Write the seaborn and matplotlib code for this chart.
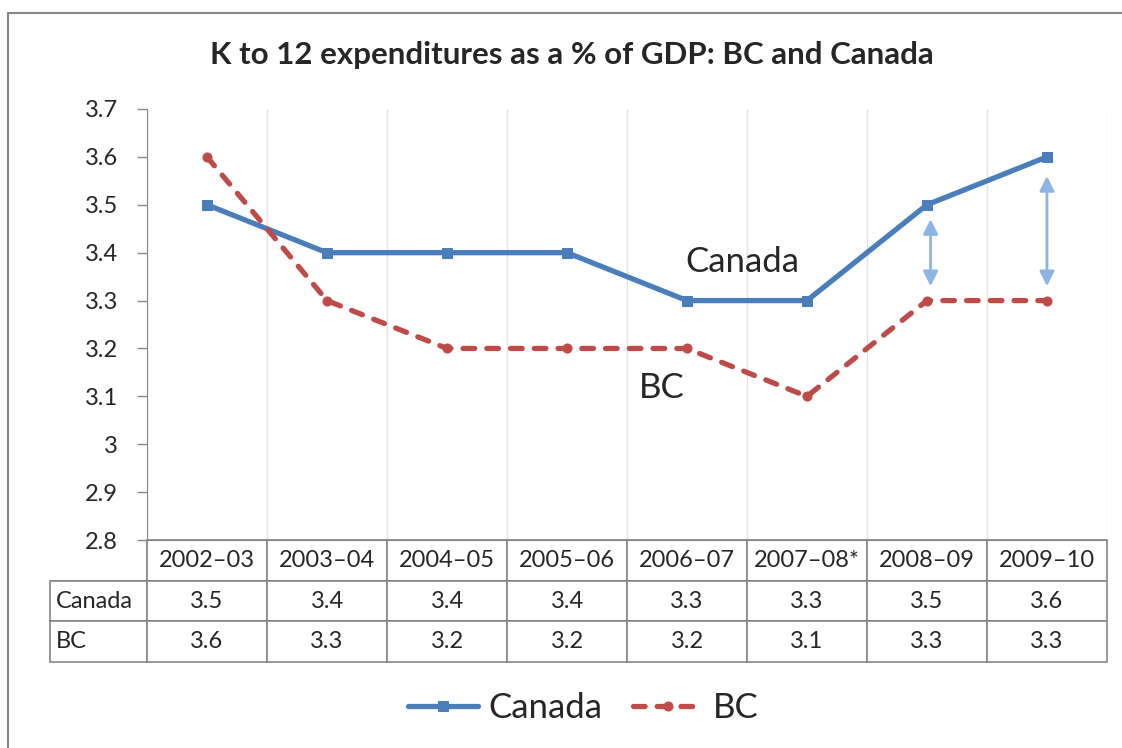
import matplotlib
matplotlib.use("Agg")
import matplotlib.pyplot as plt
import seaborn as sns
import pandas as pd
from matplotlib.patches import Rectangle

years = ["2002–03", "2003–04", "2004–05", "2005–06", "2006–07", "2007–08*", "2008–09", "2009–10"]
canada = [3.5, 3.4, 3.4, 3.4, 3.3, 3.3, 3.5, 3.6]
bc = [3.6, 3.3, 3.2, 3.2, 3.2, 3.1, 3.3, 3.3]
yticks = [2.8, 2.9, 3.0, 3.1, 3.2, 3.3, 3.4, 3.5, 3.6, 3.7]
ytick_labels = ["2.8", "2.9", "3", "3.1", "3.2", "3.3", "3.4", "3.5", "3.6", "3.7"]

# gap arrows (year index, from, to)
gap_arrows = [(6.03, 3.47, 3.33), (7.0, 3.56, 3.33)]

blue = "#4A7EBB"
red = "#BE4B48"
grey = "#868686"

sns.set_style("white")
plt.rcParams["font.family"] = ["Lato", "DejaVu Sans"]

fig = plt.figure(figsize=(11.22, 7.48), dpi=100)
ax = fig.add_axes([0.131, 0.278, 0.8556, 0.5763])

df = pd.DataFrame({"year": years, "Canada": canada, "BC": bc})

sns.lineplot(data=df, x="year", y="Canada", ax=ax, color=blue,
             marker="s", markersize=7.5, markeredgecolor=blue, label="Canada",
             sort=False)
sns.lineplot(data=df, x="year", y="BC", ax=ax, color=red,
             marker="o", markersize=6.5, markeredgecolor=red, label="BC",
             sort=False)
for ln in ax.lines[:2]:
    ln.set_linewidth(3.8)
ax.lines[1].set_dashes([2.2, 2.3])
ax.lines[1].set_dash_capstyle("round")

ax.set_xlim(-0.5, len(years) - 0.5)
ax.set_ylim(2.8, 3.7)
ax.set_yticks(yticks)
ax.set_yticklabels(ytick_labels)
ax.set_xticks([])
ax.set_xlabel("")
ax.set_ylabel("")
for b in range(len(years) + 1):
    ax.axvline(b - 0.5, color="#E3E3E3", lw=1, zorder=0)

for s in ["top", "right"]:
    ax.spines[s].set_visible(False)
ax.spines["left"].set_color(grey)
ax.spines["bottom"].set_color(grey)
ax.tick_params(axis="y", length=7, width=1, color=grey, labelsize=17, pad=14, left=True)

ax.text(4.46, 3.381, "Canada", ha="center", va="center", fontsize=25)
ax.text(3.79, 3.118, "BC", ha="center", va="center", fontsize=25)

for x, y0, y1 in gap_arrows:
    ax.annotate("", xy=(x, y1), xytext=(x, y0),
                arrowprops=dict(arrowstyle="<|-|>", color="#8EB4E3", lw=2,
                                mutation_scale=22, shrinkA=0, shrinkB=0))

# data table: first column holds the row labels
cw = 0.125
rows = [["Canada"] + [f"{v:g}" for v in canada],
        ["BC"] + [f"{v:g}" for v in bc]]
tbl = ax.table(cellText=rows, colLabels=[""] + years,
               colWidths=[cw * 97 / 120] + [cw] * len(years),
               cellLoc="center", bbox=[-0.101, -0.283, 1.101, 0.283])
tbl.auto_set_font_size(False)
tbl.set_fontsize(17)
for (r, c), cell in tbl.get_celld().items():
    cell.set_edgecolor(grey)
    cell.set_linewidth(1.2)
    if c == 0 and r == 0:
        cell.visible_edges = "BR"
    elif c == 0:
        cell.set_text_props(ha="left")
        cell._loc = "left"
        cell.PAD = 0.06

ax.legend_.remove()
handles, labels = ax.get_legend_handles_labels()
fig.legend(handles, labels, loc="center", bbox_to_anchor=(0.52, 0.0535),
           ncol=2, frameon=False, fontsize=25, handlelength=2.0,
           columnspacing=0.9, handletextpad=0.3)

fig.text(0.51, 0.926, "K to 12 expenditures as a % of GDP: BC and Canada",
         ha="center", va="center", fontsize=22.5, fontweight="bold")

fig.patches.append(Rectangle((8 / 1122, -0.1), 1.2, 1 - 13 / 748 + 0.1,
                             transform=fig.transFigure, fill=False,
                             edgecolor=grey, lw=1.5))

fig.savefig("out.png", dpi=100)
